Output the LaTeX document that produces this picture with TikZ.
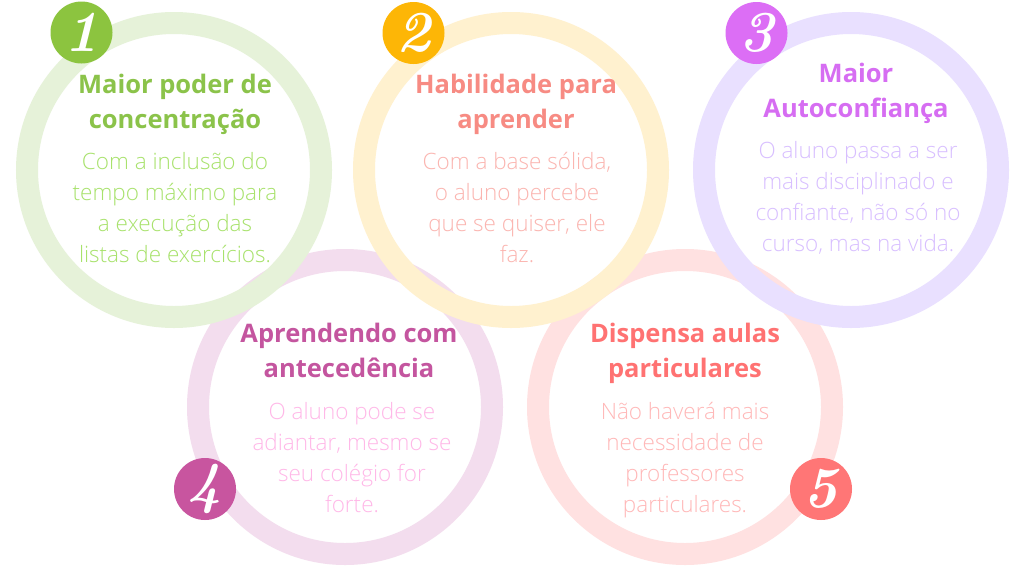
\documentclass[tikz,border=0pt]{standalone}
\usepackage{fontspec}
\newfontfamily\osb{Open Sans}
\newfontfamily\osl{Open Sans Light}
\definecolor{gBadge}{HTML}{8CC43F}
\definecolor{gRing}{HTML}{E6F2D9}
\definecolor{gTitle}{HTML}{8BC34A}
\definecolor{gBody}{HTML}{A8E26C}
\definecolor{yBadge}{HTML}{FDB606}
\definecolor{yRing}{HTML}{FFF1CF}
\definecolor{yTitle}{HTML}{F78B83}
\definecolor{yBody}{HTML}{FBB5B0}
\definecolor{pBadge}{HTML}{DC6EF5}
\definecolor{pRing}{HTML}{E9E0FF}
\definecolor{pTitle}{HTML}{D66DF2}
\definecolor{pBody}{HTML}{D8BFFF}
\definecolor{mBadge}{HTML}{C8559F}
\definecolor{mRing}{HTML}{F3DDEE}
\definecolor{mTitle}{HTML}{C4559F}
\definecolor{mBody}{HTML}{FFB8E8}
\definecolor{sBadge}{HTML}{FF7676}
\definecolor{sRing}{HTML}{FFE1E1}
\definecolor{sTitle}{HTML}{FF7272}
\definecolor{sBody}{HTML}{FFB8B8}
\begin{document}
\begin{tikzpicture}[x=1pt,y=-1pt,
  ring/.style={draw=#1,line width=22pt,circle,minimum size=294pt,inner sep=0pt},
  badge/.style={fill=#1,circle,minimum size=62pt,inner sep=0pt,text=white,
    font=\fontsize{58}{58}\selectfont\bfseries\itshape},
  ttl/.style={text=#1,align=center,anchor=base,inner sep=0pt,
    font=\osb\bfseries\fontsize{25.5}{35}\selectfont},
  bdy/.style={text=#1,align=center,anchor=base,inner sep=0pt,
    font=\osl\fontsize{22.5}{31}\selectfont}]
\fill[white] (0,0) rectangle (1024,576);
\useasboundingbox (0,0) rectangle (1024,576);
% lower rings
\node[ring=mRing] (r4) at (345,407) {};
\node[ring=sRing] (r5) at (685,407) {};
% upper rings
\node[ring=gRing] (r1) at (174,170) {};
\node[ring=yRing] (r2) at (511,170) {};
\node[ring=pRing] (r3) at (851,170) {};
% badges
\node[badge=gBadge] (b1) at (81.5,32.5) {1};
\node[badge=yBadge] (b2) at (413.5,33) {2};
\node[badge=pBadge] (b3) at (756.5,33) {3};
\node[badge=mBadge] (b4) at (205,489) {4};
\node[badge=sBadge] (b5) at (821,489) {5};
% card 1 (anchor = baseline of last line)
\node[ttl=gTitle] (t1) at (175,128) {Maior poder de\\concentração};
\node[bdy=gBody] (d1) at (175,262) {Com a inclusão do\\tempo máximo para\\a execução das\\listas de exercícios.};
% card 2
\node[ttl=yTitle] (t2) at (516,128) {Habilidade para\\aprender};
\node[bdy=yBody] (d2) at (517,262) {Com a base sólida,\\o aluno percebe\\que se quiser, ele\\faz.};
% card 3
\node[ttl=pTitle] (t3) at (856,117) {Maior\\Autoconfiança};
\node[bdy=pBody] (d3) at (858,251) {O aluno passa a ser\\mais disciplinado e\\confiante, não só no\\curso, mas na vida.};
% card 4
\node[ttl=mTitle] (t4) at (349,377) {Aprendendo com\\antecedência};
\node[bdy=mBody] (d4) at (352,512) {O aluno pode se\\adiantar, mesmo se\\seu colégio for\\forte.};
% card 5
\node[ttl=sTitle] (t5) at (685,377) {Dispensa aulas\\particulares};
\node[bdy=sBody] (d5) at (685,512) {Não haverá mais\\necessidade de\\professores\\particulares.};
\end{tikzpicture}
\end{document}
